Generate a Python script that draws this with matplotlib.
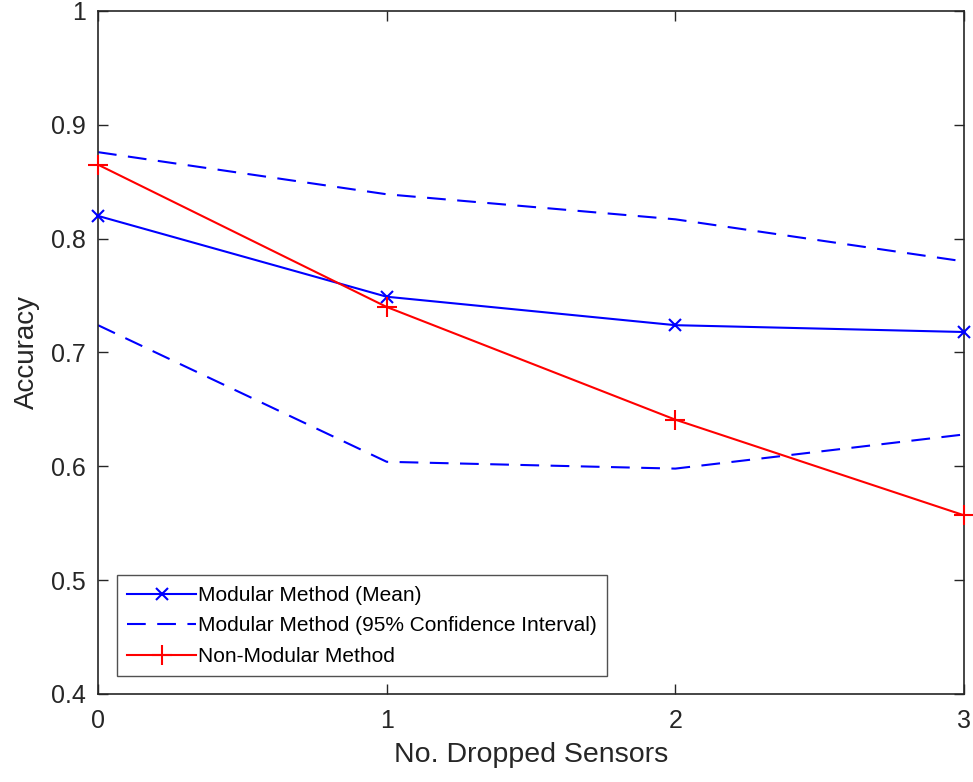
import matplotlib
matplotlib.use("Agg")
import matplotlib.pyplot as plt

plt.rcParams['font.family'] = ['Liberation Sans', 'DejaVu Sans']

# data
dropped = [0, 1, 2, 3]
modular_mean = [0.820, 0.749, 0.724, 0.718]
ci_upper = [0.876, 0.839, 0.817, 0.780]
ci_lower = [0.724, 0.604, 0.598, 0.628]
non_modular = [0.865, 0.740, 0.641, 0.557]

W, H = 973, 782
fig = plt.figure(figsize=(W / 100, H / 100), dpi=100)
ax = fig.add_axes([98 / W, 1 - 694 / H, (964 - 98) / W, (694 - 11) / H])

dash = (0, (9, 5.5))
ax.plot(dropped, modular_mean, color='#0000ff', lw=1.5, marker='x', ms=9, mew=1.5,
        label='Modular Method (Mean)', clip_on=False, zorder=3)
ax.plot(dropped, ci_upper, color='#0000ff', lw=1.5, ls=dash,
        label='Modular Method (95% Confidence Interval)')
ax.plot(dropped, ci_lower, color='#0000ff', lw=1.5, ls=dash)
ax.plot(dropped, non_modular, color='#ff0000', lw=1.5, marker='+', ms=14, mew=1.5,
        label='Non-Modular Method', clip_on=False, zorder=3)

ax.set_xlim(0, 3)
ax.set_ylim(0.4, 1)
ax.set_xticks([0, 1, 2, 3])
ax.set_yticks([0.4, 0.5, 0.6, 0.7, 0.8, 0.9, 1.0])
ax.set_yticklabels(['0.4', '0.5', '0.6', '0.7', '0.8', '0.9', '1'])

grey = '#262626'
for s in ax.spines.values():
    s.set_color(grey)
    s.set_linewidth(1.2)
ax.tick_params(direction='in', length=7, width=1, colors=grey, labelsize=18,
               top=True, right=True)
ax.tick_params(axis='x', pad=11)
ax.tick_params(axis='y', pad=9)
ax.set_xlabel('No. Dropped Sensors', fontsize=20.5, color=grey, labelpad=6)
ax.set_ylabel('Accuracy', fontsize=20, color=grey, labelpad=8)

leg = ax.legend(loc='lower left', bbox_to_anchor=(0.022, 0.026), fontsize=15,
                frameon=True, fancybox=False, edgecolor=grey, handlelength=3.3,
                handletextpad=0.1, labelspacing=0.55, borderpad=0.5, borderaxespad=0)
leg.get_frame().set_linewidth(1.0)

fig.savefig('out.png', dpi=100)
